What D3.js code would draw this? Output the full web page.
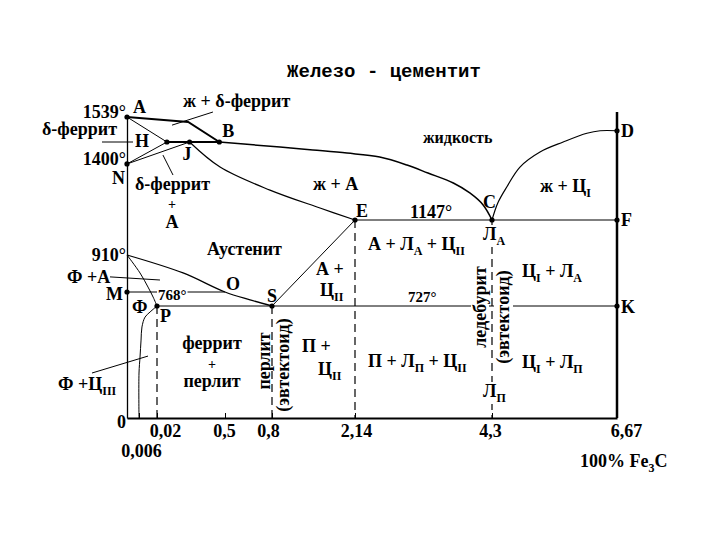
<!DOCTYPE html>
<html>
<head>
<meta charset="utf-8">
<script src="https://cdn.jsdelivr.net/npm/d3@7"></script>
<style>
  body { margin: 0; background: #fff; }
  svg text { font-family: "Liberation Serif", "Times New Roman", serif; font-weight: bold; fill: #000; }
  .title { font-family: "Liberation Mono", "Courier New", monospace !important; }
</style>
</head>
<body>
<div id="canvas"></div>
<script>
// carbon content, %  (the axis is schematic: each labelled value is a knot)
var carbonTicks = [0, 0.006, 0.02, 0.5, 0.8, 2.14, 4.3, 6.67];
// temperature knots, °C
var tempKnots = [0, 727, 768, 910, 1147, 1499, 1539];
var tempTicks = [1539, 1400, 910];

// special points: name, C %, T °C
var points = [
  ['A', 0, 1539], ['H', 0.09, 1499], ['J', 0.25, 1499], ['B', 0.46, 1499],
  ['N', 0, 1400], ['E', 2.14, 1147], ['C', 4.3, 1147], ['F', 6.67, 1147],
  ['D', 6.67, 1517], ['G', 0, 910], ['M', 0, 768], ['O', 0.5, 768],
  ['P', 0.02, 727], ['S', 0.8, 727], ['K', 6.67, 727]
];

// phase boundaries, [C %, T °C]
var liquidusAB = [[0, 1539], [0.24, 1531], [0.46, 1499]];
var liquidusBC = [[0.46, 1499], [0.93, 1476], [1.46, 1463], [2.01, 1449], [2.53, 1431], [2.96, 1395],
                  [3.29, 1359], [3.69, 1314], [3.95, 1269], [4.16, 1215], [4.3, 1147]];
var liquidusCD = [[4.3, 1147], [4.41, 1224], [4.58, 1296], [4.83, 1386], [5.21, 1454], [5.65, 1499],
                  [6.10, 1513], [6.35, 1517], [6.67, 1517]];
var solidusJE = [[0.25, 1499], [0.465, 1386], [0.787, 1282], [1.575, 1201], [2.14, 1147]];
var lineGS = [[0, 910], [0.204, 841], [0.5, 768], [0.66, 745], [0.8, 727]];
var lineGP = [[0, 910], [0.0068, 841], [0.013, 787], [0.017, 753], [0.02, 727]];
var linePQ = [[0.02, 727], [0.0146, 688], [0.0107, 655], [0.0083, 591], [0.0076, 506],
              [0.0068, 396], [0.006, 292], [0.006, 0]];

var straightLines = [
  {p: [[0, 1539], [0.09, 1499]], w: 1},        // AH
  {p: [[0.09, 1499], [0, 1400]], w: 1},        // HN
  {p: [[0.25, 1499], [0, 1400]], w: 1},        // JN
  {p: [[0.09, 1499], [0.46, 1499]], w: 2.2},   // HJB
  {p: [[2.14, 1147], [6.67, 1147]], w: 1.2},   // ECF
  {p: [[2.14, 1147], [0.8, 727]], w: 1},       // ES
  {p: [[0.02, 727], [6.67, 727]], w: 1},       // PSK
  {p: [[0, 768], [0.5, 768]], w: 1},           // MO
  {p: [[6.67, 0], [6.67, 1547]], w: 2.5}       // 100% Fe3C
];

// dashed verticals: C %, top temperature
var dashed = [[0.02, 727], [0.8, 727], [2.14, 1147], [4.3, 1147]];

// leader lines from labels
var leaders = [
  [[-0.0125, 1499], [0.003, 1499]],
  [[0.126, 1526], [0.415, 1547]],
  [[0.062, 1440], [0.133, 1350]],
  [[-0.0085, 826], [0.041, 814]],
  [[-0.0175, 292], [0.013, 402]]
];

var svg = d3.select('#canvas').append('svg')
  .attr('width', 720).attr('height', 540);

var x = d3.scaleLinear().domain(carbonTicks).range([127, 139, 157, 225, 272, 355, 492, 617]);
var y = d3.scaleLinear().domain(tempKnots).range([418, 306, 292, 255, 220, 142, 117]);

var line = d3.line().x(function(d){ return x(d[0]); }).y(function(d){ return y(d[1]); });
var curve = d3.line().x(function(d){ return x(d[0]); }).y(function(d){ return y(d[1]); })
  .curve(d3.curveCatmullRom.alpha(0.5));

var plot = svg.append('g');

// dashed verticals
plot.selectAll('.dash').data(dashed).enter().append('line')
  .attr('x1', function(d){ return x(d[0]); }).attr('x2', function(d){ return x(d[0]); })
  .attr('y1', function(d){ return y(d[1]); }).attr('y2', y(0))
  .attr('stroke', '#000').attr('stroke-width', 1.2).attr('stroke-dasharray', '8,5');

plot.selectAll('.straight').data(straightLines).enter().append('path')
  .attr('d', function(d){ return line(d.p); })
  .attr('fill', 'none').attr('stroke', '#000')
  .attr('stroke-width', function(d){ return d.w; });

plot.append('path').attr('d', line(liquidusAB)).attr('fill', 'none').attr('stroke', '#000').attr('stroke-width', 2);
[[liquidusBC, 1.5], [liquidusCD, 1.2], [solidusJE, 1.2], [lineGS, 1.3], [lineGP, 1], [linePQ, 1]].forEach(function(c){
  plot.append('path').attr('d', curve(c[0])).attr('fill', 'none').attr('stroke', '#000').attr('stroke-width', c[1]);
});

plot.selectAll('.leader').data(leaders).enter().append('path')
  .attr('d', line).attr('fill', 'none').attr('stroke', '#000').attr('stroke-width', 1);

// axes
var axisX = d3.axisBottom(x)
  .tickValues(carbonTicks)
  .tickSizeInner(-5).tickSizeOuter(0).tickPadding(0)
  .tickFormat(function(d){ return String(d).replace('.', ','); });
var gx = svg.append('g').attr('transform', 'translate(0,' + y(0) + ')').call(axisX);
gx.select('.domain').attr('stroke-width', 2);
var tickShift = {0: [-6, 10], 0.006: [2, 39], 0.02: [8, 19], 0.5: [-1, 19], 0.8: [-4, 19],
                 2.14: [1, 19], 4.3: [-2, 19], 6.67: [9, 19]};
gx.selectAll('.tick text')
  .attr('font-family', null).attr('dy', 0)
  .style('font-size', '18px')
  .attr('dx', function(d){ return tickShift[d][0]; })
  .attr('y', function(d){ return tickShift[d][1]; });

var axisY = d3.axisLeft(y)
  .tickValues(tempTicks).tickSize(0).tickPadding(1)
  .tickFormat(function(d){ return d + '°'; });
var gy = svg.append('g').attr('transform', 'translate(' + x(0) + ',0)').call(axisY);
gy.select('.domain').attr('stroke-width', 1.3);
var tempDy = {1539: 0, 1400: 1, 910: 5};
gy.selectAll('.tick text')
  .style('font-size', '18px')
  .attr('dy', function(d){ return tempDy[d]; });
gx.attr('font-family', null).attr('font-size', null);
gy.attr('font-family', null).attr('font-size', null);

// point markers
var noDot = ['G', 'O'];
plot.selectAll('.pt').data(points.filter(function(d){ return noDot.indexOf(d[0]) < 0; }))
  .enter().append('circle')
  .attr('cx', function(d){ return x(d[1]); }).attr('cy', function(d){ return y(d[2]); })
  .attr('r', 2.6).attr('fill', '#000');

var letterPos = {A: [6, -4], H: [-32, 5], J: [-7, 18], B: [3, -5], N: [-15, 20], E: [1, -3],
  C: [-9, -12], F: [4, 6], D: [4, 6], K: [4, 7], S: [-5, -4], O: [1, -2], P: [3, 16], M: [-4, 8, 'end']};
svg.selectAll('.letter').data(points.filter(function(d){ return letterPos[d[0]]; }))
  .enter().append('text')
  .attr('x', function(d){ return x(d[1]) + letterPos[d[0]][0]; })
  .attr('y', function(d){ return y(d[2]) + letterPos[d[0]][1]; })
  .attr('text-anchor', function(d){ return letterPos[d[0]][2] || 'start'; })
  .style('font-size', '18px')
  .text(function(d){ return d[0]; });

// region labels, _{..} marks a subscript
var labels = [
  {t: 'ж + δ-феррит', x: 183, y: 107},
  {t: 'δ-феррит', x: 117, y: 135, a: 'end'},
  {t: 'δ-феррит', x: 135, y: 190},
  {t: '+', x: 172, y: 209, a: 'middle', s: 14},
  {t: 'А', x: 172, y: 228, a: 'middle'},
  {t: 'жидкость', x: 423, y: 143, s: 16},
  {t: 'ж + А', x: 313, y: 190},
  {t: 'ж + Ц_{I}', x: 540, y: 192},
  {t: '1147°', x: 410, y: 218},
  {t: 'Аустенит', x: 207, y: 255},
  {t: 'А + Л_{А} + Ц_{II}', x: 368, y: 250},
  {t: 'А +', x: 316, y: 275},
  {t: 'Ц_{II}', x: 320, y: 296},
  {t: 'Ц_{I} + Л_{А}', x: 522, y: 277},
  {t: '727°', x: 408, y: 302, s: 15},
  {t: 'Ф +А', x: 67, y: 283},
  {t: '768°', x: 158, y: 300, s: 15, bg: true},
  {t: 'Ф', x: 132, y: 313},
  {t: 'феррит', x: 212, y: 349, a: 'middle'},
  {t: '+', x: 212, y: 369, a: 'middle', s: 14},
  {t: 'перлит', x: 212, y: 387, a: 'middle'},
  {t: 'перлит', x: 270, y: 361, a: 'middle', r: -90},
  {t: '(эвтектоид)', x: 289, y: 365, a: 'middle', r: -90},
  {t: 'П +', x: 302, y: 352},
  {t: 'Ц_{II}', x: 318, y: 375},
  {t: 'П + Л_{П} + Ц_{II}', x: 368, y: 367},
  {t: 'ледебурит', x: 486, y: 307, a: 'middle', r: -90, bg: true},
  {t: '(эвтектоид)', x: 509, y: 317, a: 'middle', r: -90, bg: true},
  {t: 'Ц_{I} + Л_{П}', x: 522, y: 368},
  {t: 'Ф +Ц_{III}', x: 58, y: 390},
  {t: 'Л_{А}', x: 483, y: 240, bg: true},
  {t: 'Л_{П}', x: 483, y: 397, bg: true},
  {t: '100% Fe_{3}C', x: 580, y: 467}
];

function addLabel(d){
  var size = d.s || 18;
  var g = svg.append('g')
    .attr('transform', 'translate(' + d.x + ',' + d.y + ')' + (d.r ? ' rotate(' + d.r + ')' : ''));
  var t = g.append('text').attr('text-anchor', d.a || 'start').style('font-size', size + 'px');
  var shift = 0;
  d.t.split(/(_\{[^}]*\})/).forEach(function(p){
    if (!p) return;
    var sub = p.charAt(0) === '_';
    var want = sub ? Math.round(size * 0.28) : 0;
    t.append('tspan')
      .attr('dy', want - shift)
      .style('font-size', sub ? Math.round(size * 0.68) + 'px' : null)
      .text(sub ? p.slice(2, -1) : p);
    shift = want;
  });
  if (d.bg) {
    var b = t.node().getBBox();
    g.insert('rect', 'text')
      .attr('x', b.x - 1).attr('y', b.y + 1).attr('width', b.width + 2).attr('height', b.height - 2)
      .attr('fill', '#fff');
  }
}
labels.forEach(addLabel);

svg.append('text').attr('class', 'title')
  .attr('x', 384).attr('y', 77).attr('text-anchor', 'middle')
  .style('font-size', '19px')
  .text('Железо - цементит');
</script>
</body>
</html>
